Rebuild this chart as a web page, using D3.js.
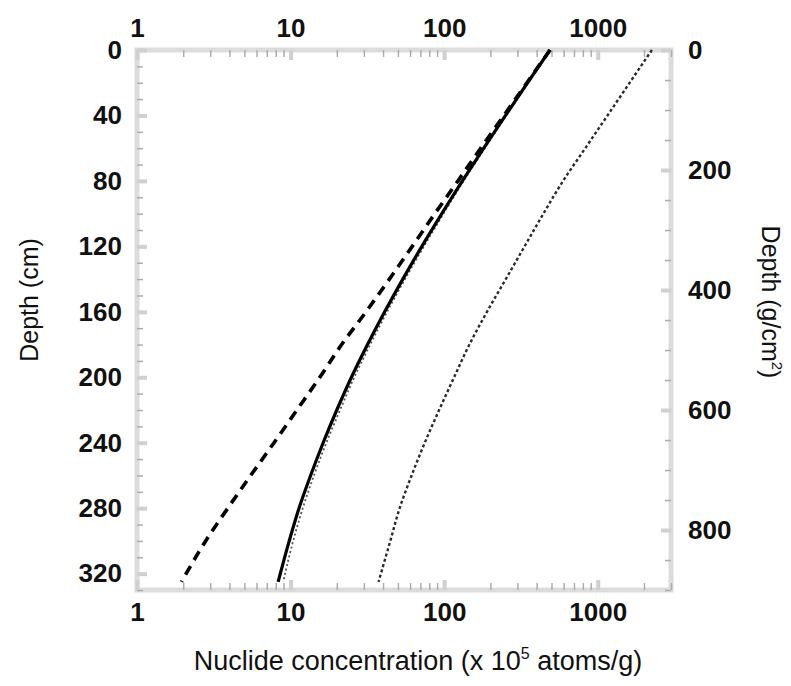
<!DOCTYPE html>
<html>
<head>
<meta charset="utf-8">
<script src="https://cdn.jsdelivr.net/npm/d3@7"></script>
<style>
  body { margin: 0; background: #fff; }
  svg { display: block; }
  .tick text { font-family: "Liberation Sans", Arial, sans-serif; font-weight: bold; fill: #111; }
  .title { font-family: "Liberation Sans", Arial, sans-serif; fill: #111; }
</style>
</head>
<body>
<svg id="chart" width="791" height="686"></svg>
<script>
// depth (cm) at which the curves were read
const depthCm = [0, 20, 40, 60, 80, 100, 120, 140, 160, 180, 200, 220, 240, 260, 280, 300, 325];
// spallation only (dashed)
const spallation = [489, 346, 245, 173, 123, 87, 62, 44, 31, 21.5, 15.5, 11, 7.8, 5.5, 3.9, 2.8, 1.95];
// total with muons (solid)
const total = [489, 349, 251, 181, 131.5, 96.6, 71.6, 53.8, 41, 31.7, 24.9, 20, 16.3, 13.5, 11.35, 9.8, 8.3];
// dotted curve running beside the solid one
const totalAlt = [489, 352, 254, 184, 134, 99, 73.8, 55.6, 42.5, 33, 26, 21, 17.1, 14.2, 12, 10.4, 8.95];
// second nuclide (grey dotted)
const second = [2254, 1614, 1158, 830, 595, 443, 334, 252, 190, 146, 116, 92.7, 74.8, 61.4, 51.3, 44.6, 37.4];

const xMajor = [1, 10, 100, 1000];
const xMinor = [2, 3, 4, 5, 6, 7, 8, 9, 20, 30, 40, 50, 60, 70, 80, 90,
                200, 300, 400, 500, 600, 700, 800, 900, 2000, 3000];
const depthTicks = [0, 40, 80, 120, 160, 200, 240, 280, 320];
const massTicks = [0, 200, 400, 600, 800];

const plot = { left: 137, right: 671, top: 50, bottom: 590 };

const svg = d3.select("#chart");

const x = d3.scaleLog().domain([1, 3000]).range([plot.left, plot.right]);
const y = d3.scaleLinear().domain([0, 330]).range([plot.top, plot.bottom]);
const yMass = d3.scaleLinear().domain([0, 900]).range([plot.top, plot.bottom]);

// frame
svg.append("rect")
    .attr("x", plot.left).attr("y", plot.top)
    .attr("width", plot.right - plot.left).attr("height", plot.bottom - plot.top)
    .attr("fill", "none").attr("stroke", "#dcdcdc").attr("stroke-width", 5);

function styleAxis(g, color, width) {
    g.select(".domain").remove();
    g.selectAll(".tick line").attr("stroke", color).attr("stroke-width", width);
    g.selectAll(".tick text").attr("font-size", 26);
}

// minor ticks
svg.append("g").attr("transform", `translate(0,${plot.top})`)
    .call(d3.axisTop(x).tickValues(xMinor).tickFormat("").tickSize(-7))
    .call(g => styleAxis(g, "#adadad", 1.5));
svg.append("g").attr("transform", `translate(0,${plot.bottom})`)
    .call(d3.axisBottom(x).tickValues(xMinor).tickFormat("").tickSize(-7))
    .call(g => styleAxis(g, "#adadad", 1.5));
svg.append("g").attr("transform", `translate(${plot.left},0)`)
    .call(d3.axisLeft(y).tickValues(d3.range(0, 331, 10)).tickFormat("").tickSize(-6))
    .call(g => styleAxis(g, "#adadad", 1.5));
svg.append("g").attr("transform", `translate(${plot.right},0)`)
    .call(d3.axisRight(yMass).tickValues(d3.range(0, 901, 50)).tickFormat("").tickSize(-6))
    .call(g => styleAxis(g, "#adadad", 1.5));

// major ticks with labels
svg.append("g").attr("transform", `translate(0,${plot.top})`)
    .call(d3.axisTop(x).tickValues(xMajor).tickFormat(d3.format("d")).tickSize(-10).tickPadding(13))
    .call(g => styleAxis(g, "#d0d0d0", 4));
svg.append("g").attr("transform", `translate(0,${plot.bottom})`)
    .call(d3.axisBottom(x).tickValues(xMajor).tickFormat(d3.format("d")).tickSize(-10).tickPadding(13))
    .call(g => styleAxis(g, "#d0d0d0", 4));
svg.append("g").attr("transform", `translate(${plot.left},0)`)
    .call(d3.axisLeft(y).tickValues(depthTicks).tickSize(-10).tickPadding(15))
    .call(g => styleAxis(g, "#d0d0d0", 4));
svg.append("g").attr("transform", `translate(${plot.right},0)`)
    .call(d3.axisRight(yMass).tickValues(massTicks).tickSize(-10).tickPadding(17))
    .call(g => styleAxis(g, "#d0d0d0", 4));

// curves
const line = vals => d3.line()
    .x((d, i) => x(vals[i]))
    .y(d => y(d))
    .curve(d3.curveMonotoneY)(depthCm);

svg.append("path").attr("d", line(second))
    .attr("fill", "none").attr("stroke", "#2a2a2a").attr("stroke-width", 2.4)
    .attr("stroke-dasharray", "3,2.5");
svg.append("path").attr("d", line(totalAlt))
    .attr("fill", "none").attr("stroke", "#555").attr("stroke-width", 1.8)
    .attr("stroke-dasharray", "2,2.5");
svg.append("path").attr("d", line(total))
    .attr("fill", "none").attr("stroke", "#000").attr("stroke-width", 3.2);
svg.append("path").attr("d", line(spallation))
    .attr("fill", "none").attr("stroke", "#000").attr("stroke-width", 3.6)
    .attr("stroke-dasharray", "10,7");

// axis titles
svg.append("text").attr("class", "title")
    .attr("transform", "translate(38,300) rotate(-90)")
    .attr("text-anchor", "middle").attr("font-size", 25)
    .text("Depth (cm)");

const rt = svg.append("text").attr("class", "title")
    .attr("transform", "translate(762,302) rotate(90)")
    .attr("text-anchor", "middle").attr("font-size", 25);
rt.append("tspan").text("Depth (g/cm");
rt.append("tspan").attr("font-size", 15).attr("dy", -10).text("2");
rt.append("tspan").attr("dy", 10).text(")");

const bt = svg.append("text").attr("class", "title")
    .attr("x", 418).attr("y", 670)
    .attr("text-anchor", "middle").attr("font-size", 27);
bt.append("tspan").text("Nuclide concentration (x 10");
bt.append("tspan").attr("font-size", 16).attr("dy", -11).text("5");
bt.append("tspan").attr("dy", 11).text(" atoms/g)");
</script>
</body>
</html>
